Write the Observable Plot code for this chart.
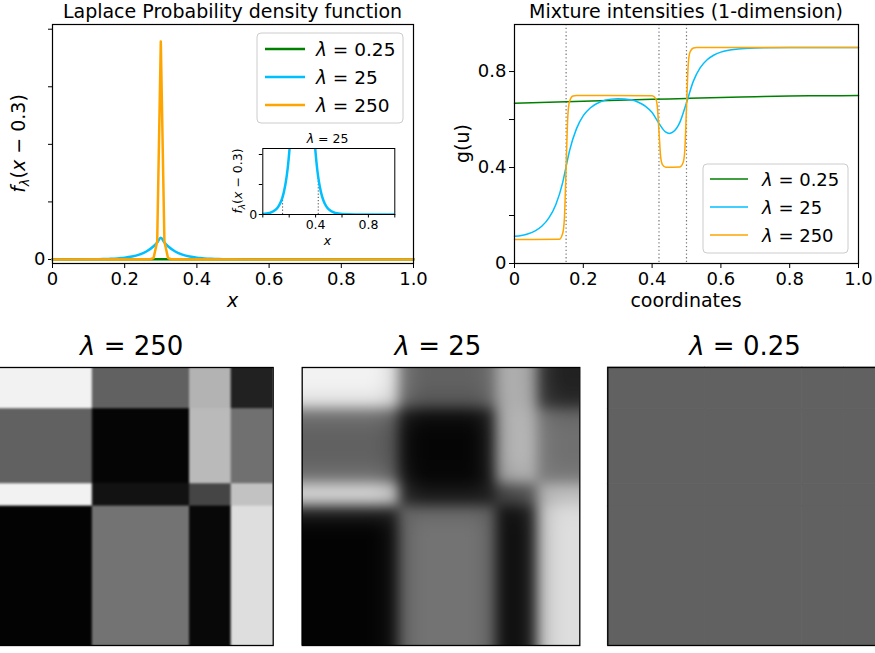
<!DOCTYPE html>
<html><head><meta charset="utf-8">
<script src="https://cdn.jsdelivr.net/npm/d3@7"></script>
<script src="https://cdn.jsdelivr.net/npm/@observablehq/plot@0.6"></script>
<style>
html,body{margin:0;padding:0;background:#fff;}
#fig{position:relative;width:875px;height:653px;overflow:hidden;font-family:"DejaVu Sans";}
.panel{position:absolute;}
.panel svg{display:block;max-width:none;}
</style></head><body><div id="fig"></div>
<script>
// ---------------- data ----------------
const lambdaLabels = ["0.25", "25", "250"];
const lineColors = ["green", "deepskyblue", "orange"];
const xTicks = [0, 0.2, 0.4, 0.6, 0.8, 1.0];

// Laplace probability density f_λ(x − 0.3)
const pdfX025 = [0, 0.1, 0.2, 0.3, 0.4, 0.5, 0.7, 1.0];
const pdfY025 = [0.116, 0.119, 0.122, 0.125, 0.122, 0.119, 0.113, 0.105];
const pdfX25 = [0, 0.05, 0.1, 0.12, 0.14, 0.15, 0.16, 0.18, 0.19, 0.2, 0.22, 0.24, 0.26, 0.28, 0.29, 0.3,
                0.31, 0.32, 0.34, 0.36, 0.38, 0.4, 0.41, 0.42, 0.44, 0.46, 0.48, 0.5, 0.55, 0.6, 0.7, 1.0];
const pdfY25 = [0.007, 0.024, 0.084, 0.139, 0.229, 0.294, 0.377, 0.622, 0.799, 1.026, 1.692, 2.789, 4.598, 7.582, 9.735, 12.5,
                9.735, 7.582, 4.598, 2.789, 1.692, 1.026, 0.799, 0.622, 0.377, 0.229, 0.139, 0.084, 0.024, 0.007, 0.0006, 0];
const pdfX250 = [0, 0.27, 0.28, 0.29, 0.30, 0.31, 0.32, 0.33, 1.0];
const pdfY250 = [0, 0.07, 0.84, 10.3, 125, 10.3, 0.84, 0.07, 0];
const pdfYTicks = [0, 33, 66, 99, 132];
const insetYTicks = [0, 0.5, 1.0];
const insetCuts = [0.15, 0.42];
const insetCutVals = [0.294, 0.622];

// Mixture intensities g(u)
const cutPoints = [0.15, 0.42, 0.5];
const mixX025 = [0, 0.1, 0.2, 0.3, 0.4, 0.5, 0.6, 0.7, 0.8, 0.9, 1.0];
const mixY025 = [0.668, 0.672, 0.676, 0.680, 0.684, 0.688, 0.692, 0.695, 0.698, 0.699, 0.700];
const mixX25 = [0, 0.02, 0.04, 0.06, 0.08, 0.10, 0.12, 0.14, 0.15, 0.16, 0.18, 0.20, 0.22, 0.25, 0.28, 0.30, 0.32, 0.34,
                0.36, 0.38, 0.40, 0.42, 0.44, 0.45, 0.46, 0.48, 0.50, 0.52, 0.54, 0.56, 0.58, 0.60, 0.65, 0.70, 0.80, 0.90, 1.00];
const mixY25 = [0.114, 0.117, 0.124, 0.136, 0.156, 0.190, 0.245, 0.337, 0.404, 0.470, 0.561, 0.616, 0.648, 0.674, 0.685, 0.687, 0.686, 0.682,
                0.672, 0.656, 0.629, 0.584, 0.547, 0.542, 0.547, 0.586, 0.670, 0.760, 0.816, 0.849, 0.869, 0.881, 0.894, 0.898, 0.900, 0.900, 0.900];
const mixX250 = [0, 0.13, 0.14, 0.145, 0.15, 0.155, 0.16, 0.17, 0.18, 0.40, 0.41, 0.415, 0.42, 0.425, 0.43, 0.44,
                 0.48, 0.49, 0.495, 0.50, 0.505, 0.51, 0.52, 0.53, 1.0];
const mixY250 = [0.1, 0.101, 0.125, 0.186, 0.40, 0.614, 0.675, 0.698, 0.70, 0.699, 0.688, 0.657, 0.55, 0.443, 0.412, 0.401,
                 0.402, 0.42, 0.47, 0.65, 0.828, 0.88, 0.898, 0.90, 0.90];
const mixYTicks = [0, 0.2, 0.4, 0.6, 0.8];

// 2-D images (grey level 0 = black, 1 = white)
const rowBreaks = [0, 0.15, 0.42, 0.5, 1];
const colBreaks = [0, 0.35, 0.70, 0.85, 1];
const img250 = [
  [0.95, 0.38, 0.70, 0.13],
  [0.38, 0.02, 0.73, 0.44],
  [0.95, 0.07, 0.27, 0.76],
  [0.01, 0.45, 0.03, 0.87]
];
const img25 = [
  [0.95, 0.38, 0.70, 0.13],
  [0.38, 0.02, 0.73, 0.44],
  [0.95, 0.07, 0.27, 0.76],
  [0.01, 0.45, 0.03, 0.87]
];
const img025 = [
  [0.381, 0.381, 0.381, 0.381],
  [0.381, 0.381, 0.381, 0.381],
  [0.381, 0.381, 0.381, 0.381],
  [0.381, 0.381, 0.381, 0.381]
];

// ---------------- helpers ----------------
const fig = document.getElementById("fig");
function place(node, left, top) {
  const d = document.createElement("div");
  d.className = "panel";
  d.style.left = left + "px"; d.style.top = top + "px";
  d.appendChild(node); fig.appendChild(d);
}
const zipXY = (xs, ys) => xs.map((x, i) => ({x, y: ys[i]}));
const fmtX = d => d === 0 ? "0" : d.toFixed(1);
const baseStyle = (fs) => ({fontFamily: "DejaVu Sans", fontSize: fs, background: "transparent", maxWidth: "none", overflow: "visible"});

// ---------------- panel A : Laplace pdf ----------------
const pdfSeries = [zipXY(pdfX025, pdfY025), zipXY(pdfX25, pdfY25), zipXY(pdfX250, pdfY250)];
const A = Plot.plot({
  width: 430, height: 310, marginLeft: 52, marginRight: 17, marginTop: 24, marginBottom: 47,
  style: baseStyle("18px"),
  x: {domain: [0, 1], ticks: xTicks, tickFormat: fmtX, tickSize: 5, tickPadding: 4, label: null},
  y: {domain: [-2.3, 134.7], ticks: pdfYTicks, tickFormat: d => d === 0 ? "0" : "", tickSize: 4, tickPadding: 3, label: null},
  marks: [
    Plot.line(pdfSeries[0], {x: "x", y: "y", stroke: lineColors[0], strokeWidth: 2.5}),
    Plot.line(pdfSeries[1], {x: "x", y: "y", stroke: lineColors[1], strokeWidth: 2.5, curve: "monotone-x"}),
    Plot.line(pdfSeries[2], {x: "x", y: "y", stroke: lineColors[2], strokeWidth: 2.5}),
    Plot.frame({stroke: "black", strokeWidth: 1.2})
  ]
});
place(A, 0, 0);

// inset
const Ins = Plot.plot({
  width: 200, height: 120, marginLeft: 62.3, marginRight: 5.7, marginTop: 20, marginBottom: 34,
  style: baseStyle("12.5px"),
  x: {domain: [0, 1], ticks: xTicks, tickFormat: d => (Math.abs(d - 0.4) < 1e-9 || Math.abs(d - 0.8) < 1e-9) ? d.toFixed(1) : "", tickSize: 3.5, tickPadding: 2, label: null},
  y: {domain: [0, 1.1], ticks: insetYTicks, tickFormat: d => d === 0 ? "0" : "", tickSize: 3.5, tickPadding: 2, label: null},
  marks: [
    Plot.ruleX(insetCuts.map((x, i) => ({x, v: insetCutVals[i]})), {x: "x", y1: 0, y2: "v", stroke: "#444", strokeWidth: 1, strokeDasharray: "1.2,2"}),
    Plot.line(pdfSeries[1], {x: "x", y: "y", stroke: lineColors[1], strokeWidth: 2.5, curve: "monotone-x", clip: true}),
    Plot.frame({stroke: "black", strokeWidth: 1})
  ]
});
place(Ins, 200, 128);

// ---------------- panel B : mixture intensities ----------------
const mixSeries = [zipXY(mixX025, mixY025), zipXY(mixX25, mixY25), zipXY(mixX250, mixY250)];
const B = Plot.plot({
  width: 435, height: 310, marginLeft: 74, marginRight: 17, marginTop: 24, marginBottom: 47,
  style: baseStyle("18px"),
  x: {domain: [0, 1], ticks: xTicks, tickFormat: fmtX, tickSize: 5, tickPadding: 4, label: null},
  y: {domain: [0, 0.996], ticks: mixYTicks, tickFormat: d => (d === 0 ? "0" : (Math.abs(d - 0.4) < 1e-9 || Math.abs(d - 0.8) < 1e-9) ? d.toFixed(1) : ""), tickSize: 5, tickPadding: 3, label: null},
  marks: [
    Plot.ruleX(cutPoints, {stroke: "#777", strokeWidth: 1.2, strokeDasharray: "1.3,2.4"}),
    Plot.line(mixSeries[0], {x: "x", y: "y", stroke: lineColors[0], strokeWidth: 1.5, curve: "monotone-x"}),
    Plot.line(mixSeries[1], {x: "x", y: "y", stroke: lineColors[1], strokeWidth: 1.5, curve: "monotone-x"}),
    Plot.line(mixSeries[2], {x: "x", y: "y", stroke: lineColors[2], strokeWidth: 1.5, curve: "monotone-x"}),
    Plot.frame({stroke: "black", strokeWidth: 1.2})
  ]
});
place(B, 440, 0);

// ---------------- images ----------------
function cells(values, extend) {
  const out = [];
  const nr = rowBreaks.length - 1, nc = colBreaks.length - 1;
  for (let r = 0; r < nr; r++) for (let c = 0; c < nc; c++) {
    out.push({
      x1: (extend && c === 0) ? -0.4 : colBreaks[c],
      x2: (extend && c === nc - 1) ? 1.4 : colBreaks[c + 1],
      y1: (extend && r === 0) ? -0.4 : rowBreaks[r],
      y2: (extend && r === nr - 1) ? 1.4 : rowBreaks[r + 1],
      v: values[r][c]
    });
  }
  return out;
}
// blurs: list of [stdDeviation, weight]
function imagePanel(values, blurs, left, width, ml, mr, id) {
  const height = 323, mt = 37, mb = 8;
  const svg = Plot.plot({
    width, height, marginLeft: ml, marginRight: mr, marginTop: mt, marginBottom: mb,
    style: baseStyle("12px"),
    x: {domain: [0, 1], axis: null},
    y: {domain: [0, 1], reverse: true, axis: null},
    color: {type: "linear", domain: [0, 1], range: ["black", "white"], interpolate: "rgb"},
    marks: [
      Plot.rect(cells(values, blurs.length > 0), {x1: "x1", x2: "x2", y1: "y1", y2: "y2", fill: "v", stroke: "v", strokeWidth: 0.8}),
      Plot.frame({stroke: "black", strokeWidth: 1.3})
    ]
  });
  if (blurs.length > 0) {
    const ns = "http://www.w3.org/2000/svg";
    const g = svg.querySelector('g[aria-label="rect"]');
    const defs = document.createElementNS(ns, "defs");
    const filter = document.createElementNS(ns, "filter");
    filter.setAttribute("id", "blur" + id);
    filter.setAttribute("filterUnits", "userSpaceOnUse");
    filter.setAttribute("color-interpolation-filters", "sRGB");
    filter.setAttribute("x", -200); filter.setAttribute("y", -200);
    filter.setAttribute("width", width + 400); filter.setAttribute("height", height + 400);
    blurs.forEach(([s], i) => {
      const fe = document.createElementNS(ns, "feGaussianBlur");
      fe.setAttribute("in", "SourceGraphic");
      fe.setAttribute("stdDeviation", s);
      fe.setAttribute("result", "b" + i);
      filter.appendChild(fe);
    });
    if (blurs.length === 2) {
      const comp = document.createElementNS(ns, "feComposite");
      comp.setAttribute("in", "b0"); comp.setAttribute("in2", "b1");
      comp.setAttribute("operator", "arithmetic");
      comp.setAttribute("k1", 0); comp.setAttribute("k2", blurs[0][1]);
      comp.setAttribute("k3", blurs[1][1]); comp.setAttribute("k4", 0);
      filter.appendChild(comp);
    }
    const cp = document.createElementNS(ns, "clipPath");
    cp.setAttribute("id", "clip" + id);
    const r = document.createElementNS(ns, "rect");
    r.setAttribute("x", ml); r.setAttribute("y", mt);
    r.setAttribute("width", width - ml - mr); r.setAttribute("height", height - mt - mb);
    cp.appendChild(r);
    defs.appendChild(filter); defs.appendChild(cp);
    svg.insertBefore(defs, svg.firstChild);
    const wrap = document.createElementNS(ns, "g");
    wrap.setAttribute("clip-path", `url(#clip${id})`);
    g.parentNode.insertBefore(wrap, g);
    wrap.appendChild(g);
    g.setAttribute("filter", `url(#blur${id})`);
  }
  place(svg, left, 330);
}
imagePanel(img250, [[0.8, 1]], -10, 290, 5, 7.3, "a");
imagePanel(img25, [[6, 0.5], [14, 0.5]], 290, 300, 11.7, 10.7, "b");
imagePanel(img025, [], 600, 300, 7.3, 14.7, "c");

// ---------------- text overlay: titles, axis labels, legends ----------------
const lam = (v) => `<tspan font-style="italic">λ</tspan> = ${v}`;
function legend(x, y, w, h, lx1, lx2, tx, rows, sw, fs) {
  let s = `<rect x="${x}" y="${y}" width="${w}" height="${h}" rx="4" fill="white" fill-opacity="0.8" stroke="#cccccc" stroke-width="1"/>`;
  lambdaLabels.forEach((lab, i) => {
    const yy = rows[i];
    s += `<line x1="${lx1}" x2="${lx2}" y1="${yy}" y2="${yy}" stroke="${lineColors[i]}" stroke-width="${sw}"/>`;
    s += `<text x="${tx}" y="${yy + 6.5}" font-size="${fs}">${lam(lab)}</text>`;
  });
  return s;
}
const over = `
<svg xmlns="http://www.w3.org/2000/svg" width="875" height="653" font-family="DejaVu Sans" fill="black" style="position:absolute;left:0;top:0;pointer-events:none">
  <text x="232.5" y="18" font-size="19" text-anchor="middle">Laplace Probability density function</text>
  <text x="686" y="18" font-size="19" text-anchor="middle">Mixture intensities (1-dimension)</text>
  <text x="232.5" y="306.5" font-size="19" font-style="italic" text-anchor="middle">x</text>
  <text x="686" y="306.5" font-size="19" text-anchor="middle">coordinates</text>
  <text transform="translate(25,143.5) rotate(-90)" font-size="19" text-anchor="middle"><tspan font-style="italic">f</tspan><tspan font-style="italic" font-size="13" dy="4">λ</tspan><tspan dy="-4">(</tspan><tspan font-style="italic">x</tspan> − 0.3)</text>
  <text transform="translate(469,143.5) rotate(-90)" font-size="19" text-anchor="middle">g(u)</text>
  <text x="327.5" y="143" font-size="12.5" text-anchor="middle">${lam("25")}</text>
  <text x="327.5" y="245" font-size="12.5" font-style="italic" text-anchor="middle">x</text>
  <text transform="translate(242,181) rotate(-90)" font-size="12.5" text-anchor="middle"><tspan font-style="italic">f</tspan><tspan font-style="italic" font-size="9" dy="3">λ</tspan><tspan dy="-3">(</tspan><tspan font-style="italic">x</tspan> − 0.3)</text>
  <text x="131.7" y="355" font-size="26" text-anchor="middle">${lam("250")}</text>
  <text x="438" y="355" font-size="26" text-anchor="middle">${lam("25")}</text>
  <text x="745" y="355" font-size="26" text-anchor="middle">${lam("0.25")}</text>
  ${legend(257, 33, 146, 90, 265, 305, 316, [49, 77, 105], 2.5, 18.5)}
  ${legend(703, 164, 145, 89, 710, 748, 762, [179, 207, 235], 1.5, 18)}
</svg>`;
fig.insertAdjacentHTML("beforeend", over);
</script>
</body></html>
